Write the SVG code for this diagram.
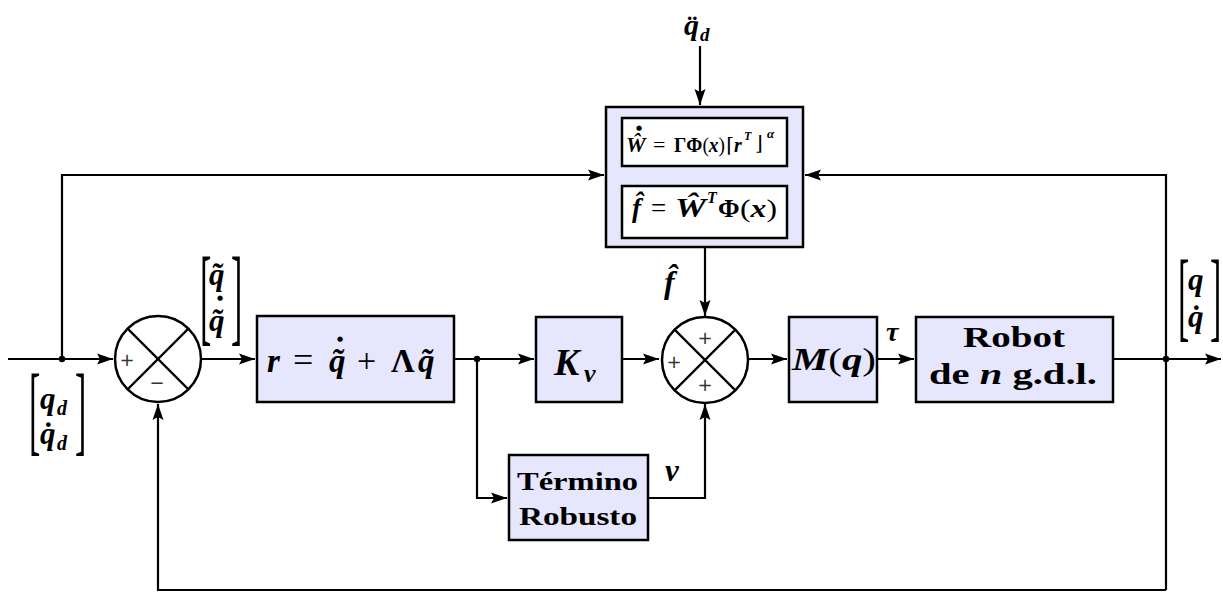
<svg xmlns="http://www.w3.org/2000/svg" width="1223" height="592" viewBox="0 0 1223 592">
<defs>
<style>
.blk{fill:#e6e6fc;stroke:#000;stroke-width:2.5}
.wb{fill:#fff;stroke:#000;stroke-width:2.5}
.ln{fill:none;stroke:#000;stroke-width:2.2}
.m{font-family:"Liberation Serif","DejaVu Serif",serif;font-weight:bold;font-style:italic;fill:#000}
.r{font-family:"Liberation Serif","DejaVu Serif",serif;font-weight:bold;fill:#000}
.n{font-family:"Liberation Serif","DejaVu Serif",serif;fill:#000}
.dj{font-family:"DejaVu Serif",serif;fill:#000}
.dot{font-family:"DejaVu Sans",sans-serif;font-size:7px;fill:#000;text-anchor:middle}
.sg{font-family:"DejaVu Sans",sans-serif;font-size:18px;fill:#333;text-anchor:middle}
</style>
<marker id="ar" markerUnits="userSpaceOnUse" markerWidth="18" markerHeight="14" refX="16" refY="7" orient="auto">
<path d="M0,1.5 L16,7 L0,12.5 L3,7 Z" fill="#000"/>
</marker>
</defs>
<rect width="1223" height="592" fill="#fff"/>

<g id="connectors">
<path class="ln" d="M8,359 H113" marker-end="url(#ar)"/>
<path class="ln" d="M62,359 V175 H604" marker-end="url(#ar)"/>
<path class="ln" d="M201,359 H255" marker-end="url(#ar)"/>
<path class="ln" d="M455,359 H534" marker-end="url(#ar)"/>
<path class="ln" d="M477,359 V498 H507" marker-end="url(#ar)"/>
<path class="ln" d="M622,359 H659" marker-end="url(#ar)"/>
<path class="ln" d="M648,498 H705 V404" marker-end="url(#ar)"/>
<path class="ln" d="M705,247 V316" marker-end="url(#ar)"/>
<path class="ln" d="M700,46 V105" marker-end="url(#ar)"/>
<path class="ln" d="M749,359 H787" marker-end="url(#ar)"/>
<path class="ln" d="M877,359 H914" marker-end="url(#ar)"/>
<path class="ln" d="M1113,359 H1221" marker-end="url(#ar)"/>
<path class="ln" d="M1166,590 V175 H805" marker-end="url(#ar)"/>
<path class="ln" d="M1166,590 H158 V404" marker-end="url(#ar)"/>
<circle cx="62" cy="359" r="3.2" fill="#000"/>
<circle cx="477" cy="359" r="3.2" fill="#000"/>
<circle cx="1166" cy="359" r="3.2" fill="#000"/>
</g>

<g id="sum1">
<circle cx="158" cy="359" r="43" fill="#fff" stroke="#000" stroke-width="2.5"/>
<path class="ln" d="M127.6,328.6 L188.4,389.4 M188.4,328.6 L127.6,389.4"/>
<text class="sg" x="127" y="366">+</text>
<text class="sg" x="157" y="389">−</text>
</g>

<g id="sum2">
<circle cx="705" cy="360" r="43" fill="#fff" stroke="#000" stroke-width="2.5"/>
<path class="ln" d="M674.6,329.6 L735.4,390.4 M735.4,329.6 L674.6,390.4"/>
<text class="sg" x="674" y="368">+</text>
<text class="sg" x="705" y="344">+</text>
<text class="sg" x="705" y="391">+</text>
</g>

<g id="rblock">
<rect class="blk" x="257" y="316" width="197" height="86"/>
<text class="m" font-size="33" x="267" y="372">r</text>
<text class="n" font-size="36" x="293" y="372">=</text>
<text class="m" font-size="33" x="329" y="372">q̃</text>
<text class="dot" x="340" y="340.5">●</text>
<text class="n" font-size="34" x="357" y="372">+</text>
<text class="r" font-size="33" x="391" y="372">Λ</text>
<text class="m" font-size="33" x="418" y="372">q̃</text>
</g>

<g id="kv">
<rect class="blk" x="536" y="317" width="86" height="85"/>
<text class="m" font-size="38" x="554" y="375">K</text>
<text class="m" font-size="26" x="584" y="382">v</text>
</g>

<g id="robust">
<rect class="blk" x="509" y="455" width="139" height="85"/>
<text class="r" font-size="26" x="517" y="490" textLength="121" lengthAdjust="spacingAndGlyphs">Término</text>
<text class="r" font-size="26" x="519" y="525" textLength="118" lengthAdjust="spacingAndGlyphs">Robusto</text>
</g>

<g id="mq">
<rect class="blk" x="789" y="317" width="88" height="85"/>
<text class="m" font-size="31" x="792" y="370" textLength="84" lengthAdjust="spacingAndGlyphs">M<tspan class="n" font-style="normal" font-weight="normal">(</tspan>q<tspan class="n" font-style="normal" font-weight="normal">)</tspan></text>
</g>

<g id="robot">
<rect class="blk" x="916" y="317" width="197" height="85"/>
<text class="r" font-size="30" x="963" y="347" textLength="102" lengthAdjust="spacingAndGlyphs">Robot</text>
<text class="r" font-size="30" x="929" y="384" textLength="168" lengthAdjust="spacingAndGlyphs">de <tspan class="m">n</tspan> g.d.l.</text>
</g>

<g id="adaptive">
<rect class="blk" x="606" y="107" width="197" height="140"/>
<rect class="wb" x="622" y="118" width="165" height="48"/>
<rect class="wb" x="622" y="186" width="165" height="52"/>
<text class="m" font-size="22" x="626" y="152">Ŵ</text>
<text class="dot" font-size="5.5" x="639" y="130">●</text>
<text class="n" font-size="22" x="653" y="152">=</text>
<text class="r" font-size="20" x="674" y="152" textLength="51" lengthAdjust="spacingAndGlyphs">ΓΦ<tspan class="n" font-weight="normal">(</tspan><tspan class="m" font-weight="normal">x</tspan><tspan class="n" font-weight="normal">)</tspan></text>
<text class="dj" font-size="20" x="726" y="152">⌈</text>
<text class="m" font-size="20" x="734" y="152">r</text>
<text class="m" font-size="12" x="744" y="140">T</text>
<text class="dj" font-size="20" x="755" y="150">⌋</text>
<text class="m" font-size="13" x="767" y="138" font-weight="normal">α</text>
<text class="m" font-size="27" x="632" y="217">f̂</text>
<text class="n" font-size="27" x="651" y="217">=</text>
<text class="m" font-size="27" x="675" y="217" textLength="31" lengthAdjust="spacingAndGlyphs">Ŵ</text>
<text class="m" font-size="16" x="707" y="203">T</text>
<text class="r" font-size="26" x="718" y="217">Φ</text>
<text class="n" font-size="26" x="740" y="217" textLength="37" lengthAdjust="spacingAndGlyphs">(<tspan class="m" font-weight="normal">x</tspan>)</text>
</g>

<g id="labels">
<text class="m" font-size="30" x="684" y="35">q̈</text>
<text class="m" font-size="19" x="700" y="41">d</text>

<text class="m" font-size="32" x="664" y="293">f̂</text>

<text class="m" font-size="31" x="665" y="481">v</text>
<text class="m" font-size="28" x="886" y="341">τ</text>

<text class="n" font-size="34" x="200" y="332" transform="translate(200,332) scale(1,3.19) translate(-200,-332)">[</text>
<text class="n" font-size="34" x="231" y="332" transform="translate(231,332) scale(1,3.19) translate(-231,-332)">]</text>
<text class="m" font-size="31" x="209" y="285">q̃</text>
<text class="dot" x="220" y="300">●</text>
<text class="m" font-size="31" x="209" y="331">q̃</text>

<text class="n" font-size="34" x="29" y="443" transform="translate(29,443) scale(1,2.9) translate(-29,-443)">[</text>
<text class="n" font-size="34" x="75" y="443" transform="translate(75,443) scale(1,2.9) translate(-75,-443)">]</text>
<text class="m" font-size="31" x="40" y="409">q</text>
<text class="m" font-size="20" x="57" y="415">d</text>
<text class="m" font-size="31" x="40" y="444">q̇</text>
<text class="m" font-size="20" x="57" y="450">d</text>

<text class="n" font-size="34" x="1178" y="329" transform="translate(1178,329) scale(1,2.9) translate(-1178,-329)">[</text>
<text class="n" font-size="34" x="1210" y="329" transform="translate(1210,329) scale(1,2.9) translate(-1210,-329)">]</text>
<text class="m" font-size="31" x="1188" y="290">q</text>
<text class="m" font-size="31" x="1188" y="327">q̇</text>
</g>
</svg>
